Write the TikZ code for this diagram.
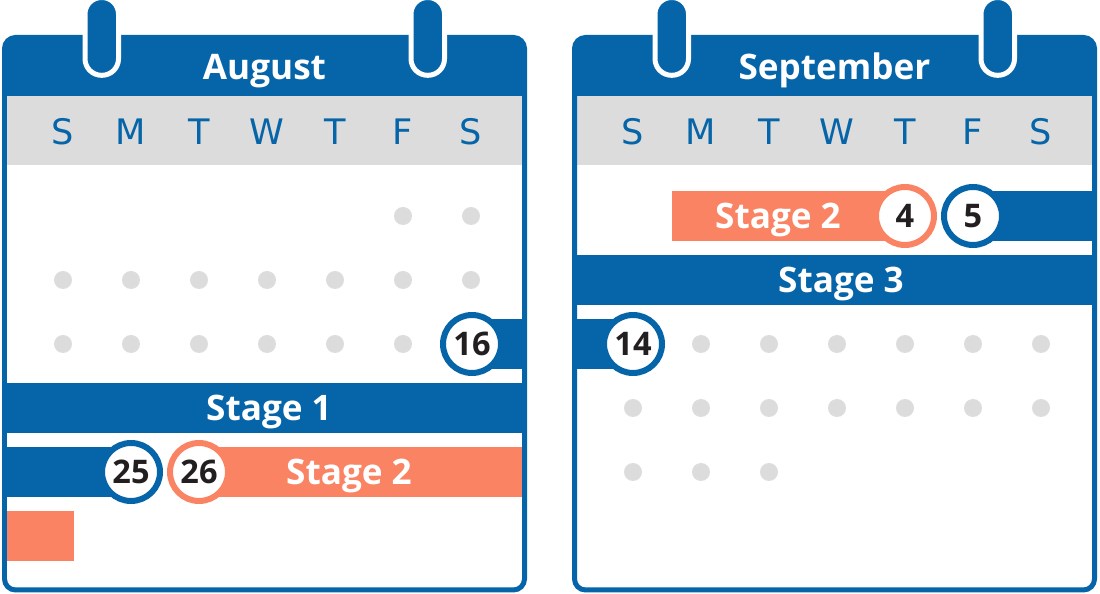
\documentclass[tikz,border=0pt]{standalone}
\usepackage{fontspec}
\newfontfamily\labelfont{Open Sans}
\newfontfamily\dayfont{DejaVu Sans}
\usetikzlibrary{calc}

\definecolor{calblue}{HTML}{0565A8}
\definecolor{stageorange}{HTML}{FA8363}
\definecolor{dotgray}{HTML}{DCDCDC}
\definecolor{numblack}{HTML}{231F20}

\tikzset{
  daylet/.style={inner sep=0pt,text height=0.52cm,text depth=0pt,
    font=\dayfont\fontsize{20}{24}\selectfont,text=calblue},
  stagetxt/.style={inner sep=0pt,text height=0.5cm,text depth=0pt,
    font=\labelfont\bfseries\fontsize{20}{24}\selectfont,text=white},
  numcirc/.style={circle,draw=#1,fill=white,line width=0.12cm,
    minimum size=1.16cm,inner sep=0pt,text height=0.47cm,text depth=0pt,
    font=\labelfont\bfseries\fontsize{18.5}{22}\selectfont,text=numblack},
  ring/.style={draw=white,fill=calblue,line width=0.1cm,rounded corners=0.33cm},
}

\begin{document}
\begin{tikzpicture}[x=0.02cm,y=-0.02cm]
\useasboundingbox (0,0) rectangle (1100,594);

% both sheets: frame, header, week days
\foreach \ox/\mname in {0/August,570/September}{
  \fill[white] (\ox+4.5,37.5) rectangle (\ox+524.5,590);
  \fill[calblue,rounded corners=0.22cm] (\ox+4.5,120) |- (\ox+524.5,37.5) -- (\ox+524.5,120) -- cycle;
  \fill[dotgray] (\ox+4.5,96) rectangle (\ox+524.5,165);
  \node[stagetxt] (m\ox) at (\ox+264.5,67.5) {\mname};
  \foreach \d [count=\i from 0] in {S,M,T,W,T,F,S}
    \node[daylet] (w\ox-\i) at (\ox+63+68*\i,132) {\d};
}

% August
\foreach \c in {5,6} \fill[dotgray] (63+68*\c,216) circle[radius=9];
\foreach \c in {0,...,6} \fill[dotgray] (63+68*\c,280) circle[radius=9];
\foreach \c in {0,...,5} \fill[dotgray] (63+68*\c,344) circle[radius=9];

\fill[calblue] (472,319) rectangle (524.5,369); % stage 1 starts
\fill[calblue] (4.5,383) rectangle (524.5,433);
\node[stagetxt] (s1) at (269,408) {Stage 1};
\fill[calblue] (4.5,447) rectangle (131,497);
\fill[stageorange] (199,447) rectangle (524.5,497);
\node[stagetxt] (s2a) at (349,472) {Stage 2};
\fill[stageorange] (4.5,511) rectangle (74,561);

\node[numcirc=calblue] (d16) at (472,344) {16};
\node[numcirc=calblue] (d25) at (131,472) {25};
\node[numcirc=stageorange] (d26) at (199,472) {26};

% September
\fill[stageorange] (672,191) rectangle (905,241);
\node[stagetxt] (s2b) at (778,216) {Stage 2};
\fill[calblue] (973,191) rectangle (1094.5,241);
\fill[calblue] (574.5,255) rectangle (1094.5,305);
\node[stagetxt] (s3) at (841,280) {Stage 3};
\fill[calblue] (574.5,319) rectangle (633,369);

\foreach \c in {1,...,6} \fill[dotgray] (633+68*\c,344) circle[radius=9];
\foreach \c in {0,...,6} \fill[dotgray] (633+68*\c,408) circle[radius=9];
\foreach \c in {0,...,2} \fill[dotgray] (633+68*\c,472) circle[radius=9];

\node[numcirc=stageorange] (d4) at (905,216) {4};
\node[numcirc=calblue] (d5) at (973,216) {5};
\node[numcirc=calblue] (d14) at (633,344) {14};

% frames and rings on top
\foreach \ox in {0,570}{
  \draw[calblue,line width=0.1cm,rounded corners=0.22cm] (\ox+4.5,37.5) rectangle (\ox+524.5,590);
  \draw[ring] (\ox+85,-2.5) rectangle (\ox+118.5,75.3);
  \draw[ring] (\ox+411,-2.5) rectangle (\ox+444.5,75.3);
}
\end{tikzpicture}
\end{document}
